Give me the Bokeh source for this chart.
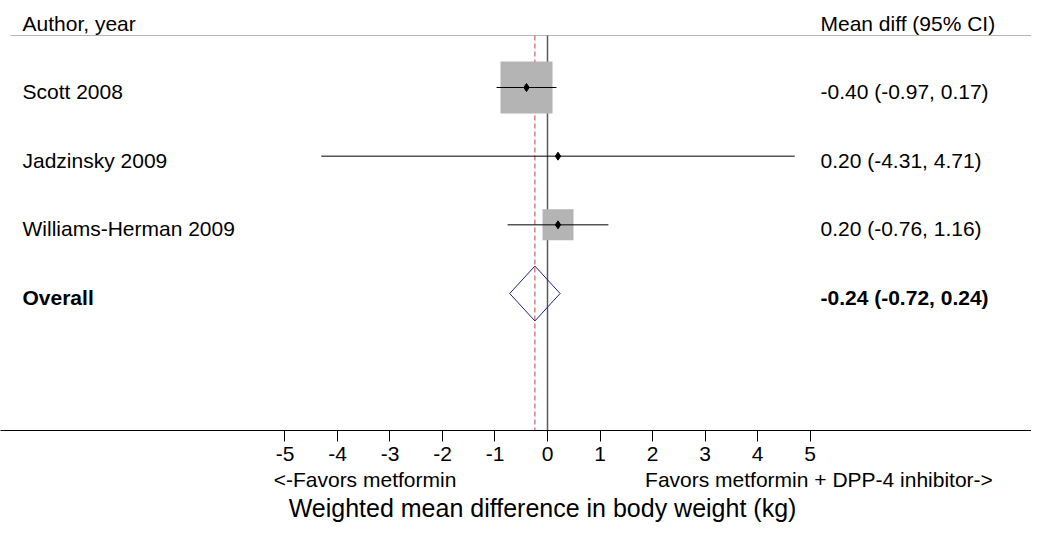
from bokeh.plotting import figure
from bokeh.models import Range1d, FixedTicker, LinearAxis, ColumnDataSource
from bokeh.core.properties import value
from bokeh.embed import file_html
from bokeh.resources import INLINE

# ---------------- data ----------------
studies = ["Scott 2008", "Jadzinsky 2009", "Williams-Herman 2009"]
est = [-0.40, 0.20, 0.20]
lcl = [-0.97, -4.31, -0.76]
ucl = [0.17, 4.71, 1.16]
weights = [73.5, 0.4, 26.1]          # percent weight (box area)
overall_label = "Overall"
overall_est = -0.24
overall_lcl = -0.72
overall_ucl = 0.24
x_ticks = [-5, -4, -3, -2, -1, 0, 1, 2, 3, 4, 5]
col_left_header = "Author, year"
col_right_header = "Mean diff (95% CI)"
left_note = "<-Favors metformin"
right_note = "Favors metformin + DPP-4 inhibitor->"
x_title = "Weighted mean difference in body weight (kg)"

FONT = "Liberation Sans"

# ---------------- layout ----------------
X0, X1 = -10.419, 9.219          # frame extent in data units
Y_BOTTOM, Y_TOP = 5.995, -0.267  # reversed: row 1 at top
rows = [1, 2, 3]
overall_row = 4
header_row = 0.068
header_line = 0.243

p = figure(width=1031, height=525, output_backend="svg", toolbar_location=None,
           x_range=Range1d(X0, X1), y_range=Range1d(Y_BOTTOM, Y_TOP),
           min_border_left=0, min_border_right=0, min_border_top=0,
           min_border_bottom=95, x_axis_location=None, y_axis_location=None)
p.outline_line_color = None
p.xgrid.visible = False
p.ygrid.visible = False
p.background_fill_color = "white"
p.border_fill_color = "white"

# header rule
p.segment(x0=[-10.229], y0=[header_line], x1=[X1], y1=[header_line],
          line_color="#b4b4b4", line_width=1)

# reference line at 0 and overall dashed line
p.segment(x0=[0], y0=[header_line], x1=[0], y1=[Y_BOTTOM],
          line_color="#5a5a5a", line_width=1.5)
p.segment(x0=[overall_est], y0=[header_line], x1=[overall_est], y1=[Y_BOTTOM],
          line_color="#c04050", line_width=1, line_dash="5 3")

# study boxes, CI lines, point estimates
box_size = [6.07 * (w ** 0.5) for w in weights]
src = ColumnDataSource(dict(y=rows, est=est, lcl=lcl, ucl=ucl, size=box_size))
p.scatter(x="est", y="y", size="size", marker="square", source=src,
          fill_color="#b4b4b4", line_color=None)
p.segment(x0="lcl", y0="y", x1="ucl", y1="y", source=src,
          line_color="black", line_width=1)
p.scatter(x="est", y="y", size=8, marker="diamond", source=src,
          fill_color="black", line_color="black")

# overall diamond
hh = 0.40
p.patch(x=[overall_lcl, overall_est, overall_ucl, overall_est],
        y=[overall_row, overall_row - hh, overall_row, overall_row + hh],
        fill_color=None, line_color="#1c2088", line_width=1)

# texts
XL = -10.0
XR = 5.2
p.text(x=[XL], y=[header_row], text=[col_left_header], text_font=value(FONT),
       text_font_size="21px", text_baseline="middle", text_align="left", text_color="black")
p.text(x=[XR], y=[header_row], text=[col_right_header], text_font=value(FONT),
       text_font_size="21px", text_baseline="middle", text_align="left", text_color="black")

ci_text = [f"{e:.2f} ({l:.2f}, {u:.2f})" for e, l, u in zip(est, lcl, ucl)]
p.text(x=[XL] * len(rows), y=rows, text=studies, text_font=value(FONT),
       text_font_size="21px", text_baseline="middle", text_align="left",
       y_offset=4, text_color="black")
p.text(x=[XR] * len(rows), y=rows, text=ci_text, text_font=value(FONT),
       text_font_size="21px", text_baseline="middle", text_align="left",
       y_offset=4, text_color="black")
p.text(x=[XL], y=[overall_row], text=[overall_label], text_font=value(FONT),
       text_font_size="21px", text_font_style="bold", text_baseline="middle",
       text_align="left", y_offset=4, text_color="black")
p.text(x=[XR], y=[overall_row],
       text=[f"{overall_est:.2f} ({overall_lcl:.2f}, {overall_ucl:.2f})"],
       text_font=value(FONT), text_font_size="21px", text_font_style="bold",
       text_baseline="middle", text_align="left", y_offset=4, text_color="black")

# x axis with ticks
ax = LinearAxis(ticker=FixedTicker(ticks=x_ticks))
ax.major_label_overrides = {t: str(t) for t in x_ticks}
ax.axis_line_color = "black"
ax.axis_line_width = 1
ax.major_tick_in = 0
ax.major_tick_out = 11
ax.major_tick_line_color = "black"
ax.minor_tick_line_color = None
ax.major_label_text_font = FONT
ax.major_label_text_font_size = "21px"
ax.major_label_text_color = "black"
ax.major_label_standoff = 5
p.add_layout(ax, "below")


def text_axis(labels, size, standoff):
    pos = list(labels.keys())
    a = LinearAxis(ticker=FixedTicker(ticks=pos))
    a.major_label_overrides = labels
    a.axis_line_color = None
    a.major_tick_line_color = None
    a.minor_tick_line_color = None
    a.major_tick_in = 0
    a.major_tick_out = 0
    a.major_label_text_font = FONT
    a.major_label_text_font_size = size
    a.major_label_text_color = "black"
    a.major_label_standoff = standoff
    return a


# direction notes (centred under their text spans) and axis title
p.add_layout(text_axis({-3.476: left_note, 5.171: right_note}, "21px", 4), "below")
p.add_layout(text_axis({-0.095: x_title}, "25px", 0), "below")

open("out.html", "w").write(file_html(p, INLINE))
